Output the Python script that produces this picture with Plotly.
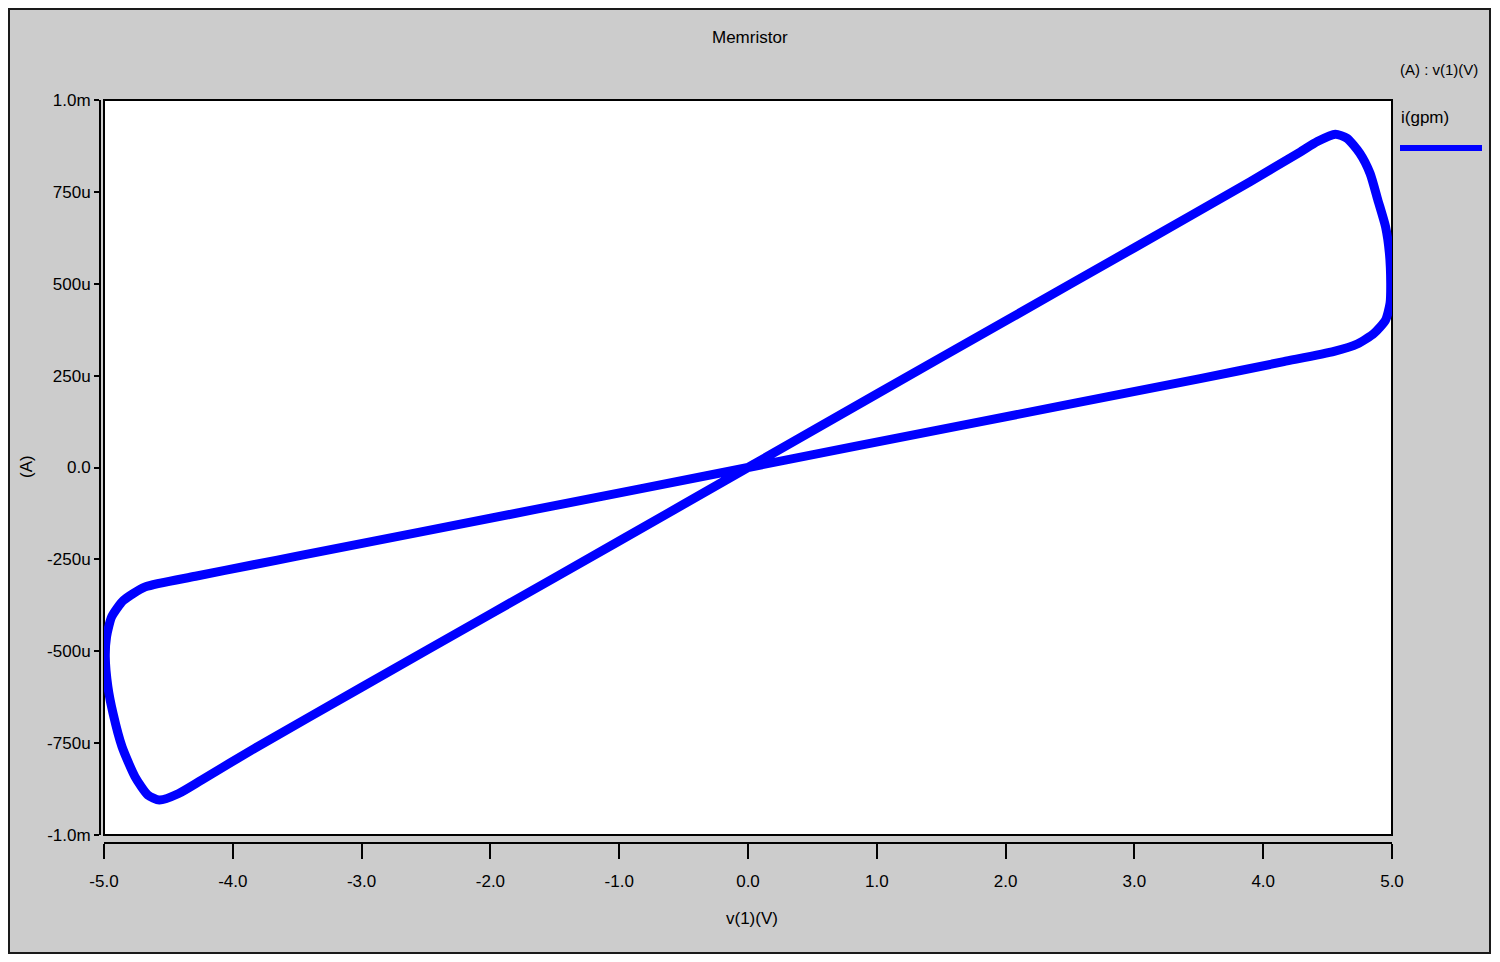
import plotly.graph_objects as go

# ---- data ----
# upper (high-conductance) branch, origin -> positive peak
v_up_pos = [0.0, 1.0, 2.0, 3.0, 3.9, 4.29, 4.42, 4.56]
i_up_pos = [0.0, 0.200, 0.399, 0.598, 0.778, 0.859, 0.887, 0.907]
# right cap, peak -> low branch
v_cap_r = [4.65, 4.75, 4.83, 4.89, 4.95, 4.98, 4.99, 4.985, 4.95, 4.86, 4.73, 4.55]
i_cap_r = [0.896, 0.855, 0.800, 0.728, 0.655, 0.583, 0.501, 0.447, 0.401, 0.365, 0.336, 0.316]
# low (low-conductance) branch, positive -> negative
v_low = [4.16, 3.51, 1.65, 0.0, -1.65, -3.51, -3.83, -4.29]
i_low = [0.288, 0.242, 0.114, 0.0, -0.114, -0.242, -0.264, -0.296]
# left cap, low branch -> negative peak
v_cap_l = [-4.68, -4.85, -4.94, -4.98, -4.99, -4.97, -4.93, -4.86, -4.76, -4.66, -4.57]
i_cap_l = [-0.325, -0.362, -0.406, -0.460, -0.515, -0.596, -0.669, -0.760, -0.841, -0.891, -0.905]
# upper branch, negative peak -> origin
v_up_neg = [-4.42, -4.24, -3.83, -3.0, -2.0, -1.0, 0.0]
i_up_neg = [-0.887, -0.850, -0.764, -0.598, -0.399, -0.200, 0.0]

x_ticks = [-5, -4, -3, -2, -1, 0, 1, 2, 3, 4, 5]
x_labels = ["-5.0", "-4.0", "-3.0", "-2.0", "-1.0", "0.0", "1.0", "2.0", "3.0", "4.0", "5.0"]
y_ticks = [1.0, 0.75, 0.5, 0.25, 0.0, -0.25, -0.5, -0.75, -1.0]
y_labels = ["1.0m", "750u", "500u", "250u", "0.0", "-250u", "-500u", "-750u", "-1.0m"]

v_all = v_up_pos + v_cap_r + v_low + v_cap_l + v_up_neg
i_all = i_up_pos + i_cap_r + i_low + i_cap_l + i_up_neg

FONT = "Liberation Sans, Arial, sans-serif"
GRAY = "#cccccc"
BLUE = "#0000ff"

OFF = 8                      # page body margin
W, H = 1500 - 2 * OFF, 962 - 2 * OFF
# plot area, in page pixels
PL, PR, PT, PB = 100, 1392, 100, 843
L, R, T, B = PL - OFF, PR - OFF, PT - OFF, PB - OFF


def px(X):
    """page pixel x -> paper fraction"""
    return (X - OFF - L) / (R - L)


def py(Y):
    """page pixel y -> paper fraction"""
    return (B - (Y - OFF)) / (B - T)


fig = go.Figure()
fig.add_trace(go.Scatter(
    x=v_all, y=i_all, mode="lines",
    line=dict(color=BLUE, width=9, shape="spline", smoothing=0.6),
    name="i(gpm)", showlegend=False, hoverinfo="skip",
))

shapes = [
    # outer gray frame
    dict(type="rect", xref="paper", yref="paper", x0=px(9), x1=px(1490), y0=py(953), y1=py(9),
         fillcolor=GRAY, line=dict(color="#1a1a1a", width=2), layer="below"),
    # white plot box
    dict(type="rect", xref="paper", yref="paper", x0=px(104), x1=px(1392), y0=py(835), y1=py(100),
         fillcolor="white", line=dict(color="black", width=2), layer="below"),
    # legend sample line
    dict(type="line", xref="paper", yref="paper", x0=px(1400), x1=px(1482), y0=py(148), y1=py(148),
         line=dict(color=BLUE, width=6)),
]

annotations = [
    dict(text="Memristor", x=px(750), y=py(37), xref="paper", yref="paper", showarrow=False,
         font=dict(family=FONT, size=17, color="black"), xanchor="center", yanchor="middle"),
    dict(text="(A) : v(1)(V)", x=px(1398), y=py(70), xref="paper", yref="paper", showarrow=False,
         font=dict(family=FONT, size=15, color="black"), xanchor="left", yanchor="middle"),
    dict(text="i(gpm)", x=px(1399), y=py(117), xref="paper", yref="paper", showarrow=False,
         font=dict(family=FONT, size=17, color="black"), xanchor="left", yanchor="middle"),
    dict(text="(A)", x=px(27), y=py(467), xref="paper", yref="paper", showarrow=False, textangle=-90,
         font=dict(family=FONT, size=17, color="black"), xanchor="center", yanchor="middle"),
    dict(text="v(1)(V)", x=px(752), y=py(918), xref="paper", yref="paper", showarrow=False,
         font=dict(family=FONT, size=17, color="black"), xanchor="center", yanchor="middle"),
]

fig.update_layout(
    width=W, height=H,
    margin=dict(l=L, r=W - R, t=T, b=H - B, pad=0),
    paper_bgcolor="white", plot_bgcolor=GRAY,
    showlegend=False,
    shapes=shapes, annotations=annotations,
    font=dict(family=FONT, size=17, color="black"),
    xaxis=dict(
        range=[-5, 5], domain=[(104 - PL) / (PR - PL), 1.0], anchor="free", position=0,
        tickmode="array", tickvals=x_ticks, ticktext=x_labels,
        ticks="outside", ticklen=15, tickwidth=1.5, tickcolor="black",
        showline=True, linecolor="black", linewidth=2,
        showgrid=False, zeroline=False, fixedrange=True,
        ticklabelstandoff=8,
        tickfont=dict(family=FONT, size=17, color="black"),
    ),
    yaxis=dict(
        range=[-1.0, 1.0], domain=[(PB - 835) / (PB - PT), 1.0], anchor="free", position=0,
        tickmode="array", tickvals=y_ticks, ticktext=y_labels,
        ticks="outside", ticklen=5, tickwidth=1.5, tickcolor="black",
        showline=True, linecolor="black", linewidth=2,
        showgrid=False, zeroline=False, fixedrange=True,
        tickfont=dict(family=FONT, size=17, color="black"),
    ),
)

fig.write_html("out.html")
